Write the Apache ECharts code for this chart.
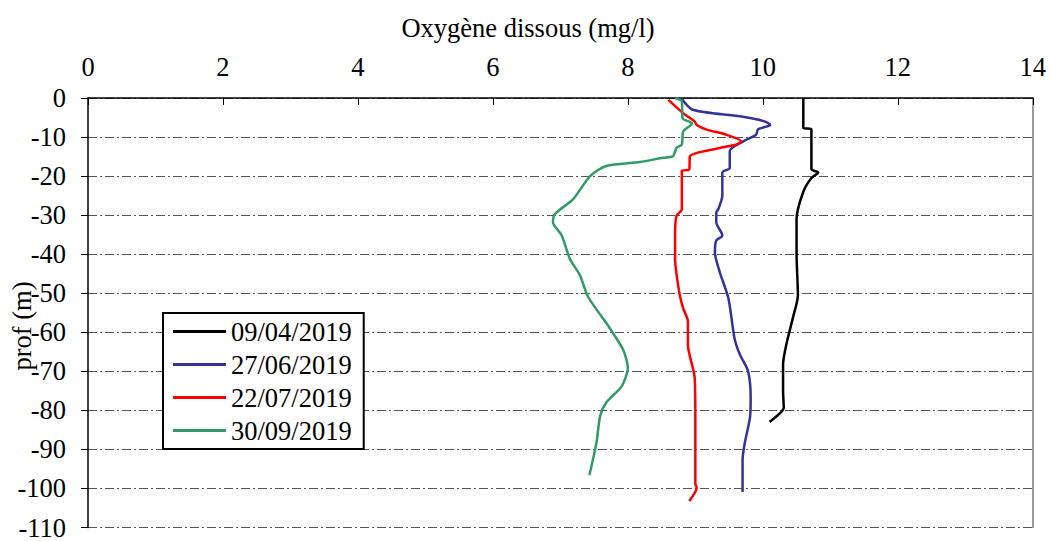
<!DOCTYPE html>
<html>
<head>
<meta charset="utf-8">
<script src="https://cdn.jsdelivr.net/npm/echarts@6/dist/echarts.min.js"></script>
<style>
html,body{margin:0;padding:0;background:#fff;}
#chart{width:1049px;height:541px;}
</style>
</head>
<body>
<div id="chart"></div>
<script>
// Series labels
const seriesNames = ['09/04/2019', '27/06/2019', '22/07/2019', '30/09/2019'];
const xTicks = [0, 2, 4, 6, 8, 10, 12, 14];
const yTicks = [0, -10, -20, -30, -40, -50, -60, -70, -80, -90, -100, -110];

// 09/04/2019
const o2_0904 = [10.6, 10.6, 10.72, 10.72, 10.82, 10.72, 10.6, 10.5, 10.5, 10.52, 10.45, 10.35, 10.3, 10.3, 10.31, 10.25, 10.1];
const depth_0904 = [0, -7.6, -8.1, -18.2, -19.1, -20.5, -24, -31, -40, -50.5, -56, -63, -68.3, -75, -79.3, -80.8, -83];

// 27/06/2019
const o2_2706 = [8.79, 8.96, 9.66, 10.03, 10.11, 9.93, 9.9, 9.71, 9.51, 9.51, 9.4, 9.4, 9.34, 9.31, 9.31, 9.4, 9.31, 9.29, 9.36, 9.49, 9.58, 9.66, 9.78, 9.82, 9.81, 9.73, 9.7, 9.7];
const depth_2706 = [0, -3, -4.7, -6, -6.9, -8, -9.4, -11.1, -13.6, -17.9, -19.1, -25, -28.5, -29.3, -31.8, -35.2, -36.5, -39.5, -44.5, -51.3, -61.5, -65.7, -69.9, -76.7, -81.8, -88.6, -92.8, -100.9];

// 22/07/2019
const o2_2207 = [8.6, 8.82, 8.99, 9.02, 9.17, 9.46, 9.68, 9.61, 9.36, 8.92, 8.91, 8.8, 8.8, 8.72, 8.7, 8.7, 8.72, 8.77, 8.82, 8.89, 8.89, 8.99, 9.0, 9.0, 9.02, 8.91];
const depth_2207 = [-0.5, -3.9, -6, -6.9, -8.1, -9.4, -11.1, -11.9, -12.8, -14.9, -18.3, -18.7, -28.5, -30.2, -35.2, -41.2, -45, -50.5, -53.9, -57.2, -63.2, -71.6, -82.6, -98.8, -99.8, -103.2];

// 30/09/2019
const o2_3009 = [8.7, 8.8, 8.81, 8.95, 8.82, 8.8, 8.72, 8.67, 8.52, 8.18, 7.68, 7.44, 7.19, 6.92, 6.89, 7.02, 7.14, 7.29, 7.41, 7.73, 7.93, 8.0, 7.91, 7.68, 7.59, 7.54, 7.49, 7.43];
const depth_3009 = [0, -0.9, -5.2, -6.5, -8.6, -11.9, -12.8, -14.9, -15.3, -16.4, -17.4, -20, -25.9, -29.7, -31.8, -35.2, -41.2, -45.4, -50.9, -58.9, -64.5, -69.1, -73.8, -78, -81.4, -87.7, -92, -96.6];

const seriesColors = ['#000000', '#333399', '#ff0000', '#339966'];
const seriesX = [o2_0904, o2_2706, o2_2207, o2_3009];
const seriesY = [depth_0904, depth_2706, depth_2207, depth_3009];

const FONT = '"Liberation Serif", "Times New Roman", serif';
const FS = 26.5;

const series = seriesNames.map((name, i) => ({
  name: name,
  type: 'line',
  showSymbol: false,
  symbol: 'none',
  smooth: 0.25,
  color: seriesColors[i],
  lineStyle: { color: seriesColors[i], width: 2.5 },
  data: seriesX[i].map((v, k) => [v, seriesY[i][k]]),
  z: 3
}));

const chart = echarts.init(document.getElementById('chart'), null, { renderer: 'svg' });
chart.setOption({
  animation: false,
  backgroundColor: '#fff',
  textStyle: { fontFamily: FONT, color: '#000' },
  grid: { left: 88, top: 98, right: 16, bottom: 10, containLabel: false },
  xAxis: {
    type: 'value',
    position: 'top',
    min: xTicks[0],
    max: xTicks[xTicks.length - 1],
    interval: 2,
    axisLine: { show: true, onZero: false, lineStyle: { color: '#000', width: 1.5 } },
    axisTick: { show: true, inside: true, length: 7, lineStyle: { color: '#000', width: 1 } },
    axisLabel: { fontFamily: FONT, fontSize: FS, color: '#000', margin: 18 },
    splitLine: { show: false }
  },
  yAxis: [{
    type: 'value',
    min: yTicks[yTicks.length - 1],
    max: yTicks[0],
    interval: 10,
    axisLine: { show: true, onZero: false, lineStyle: { color: '#000', width: 1.5 } },
    axisTick: { show: true, inside: false, length: 7, lineStyle: { color: '#000', width: 1 } },
    axisLabel: { fontFamily: FONT, fontSize: FS, color: '#000', margin: 22 },
    splitLine: { show: true, lineStyle: { color: '#555', width: 1, type: [9, 3, 2, 3] } }
  }, {
    type: 'value',
    position: 'right',
    min: yTicks[yTicks.length - 1],
    max: yTicks[0],
    interval: 10,
    axisLine: { show: true, onZero: false, lineStyle: { color: '#777', width: 1.5 } },
    axisTick: { show: false },
    axisLabel: { show: false },
    splitLine: { show: false }
  }],
  legend: {
    orient: 'vertical',
    left: 163,
    top: 313,
    padding: [5, 12, 5, 10],
    itemWidth: 53,
    itemHeight: 3,
    itemGap: 6,
    backgroundColor: '#fff',
    borderColor: '#000',
    borderWidth: 2,
    borderRadius: 0,
    textStyle: { fontFamily: FONT, fontSize: FS, lineHeight: 26, color: '#000', padding: [0, 0, 0, 0] },
    data: seriesNames.map((n, i) => ({ name: n, icon: 'rect', itemStyle: { color: seriesColors[i] } })),
    selectedMode: false
  },
  graphic: [
    { type: 'text', x: 528, y: 28, style: { text: 'Oxygène dissous (mg/l)', font: FS + 'px ' + FONT, fill: '#000', textAlign: 'center', textVerticalAlign: 'middle' } },
    { type: 'text', x: 22, y: 326, rotation: Math.PI / 2, style: { text: 'prof (m)', font: FS + 'px ' + FONT, fill: '#000', textAlign: 'center', textVerticalAlign: 'middle' } }
  ],
  series: series
});
</script>
</body>
</html>
